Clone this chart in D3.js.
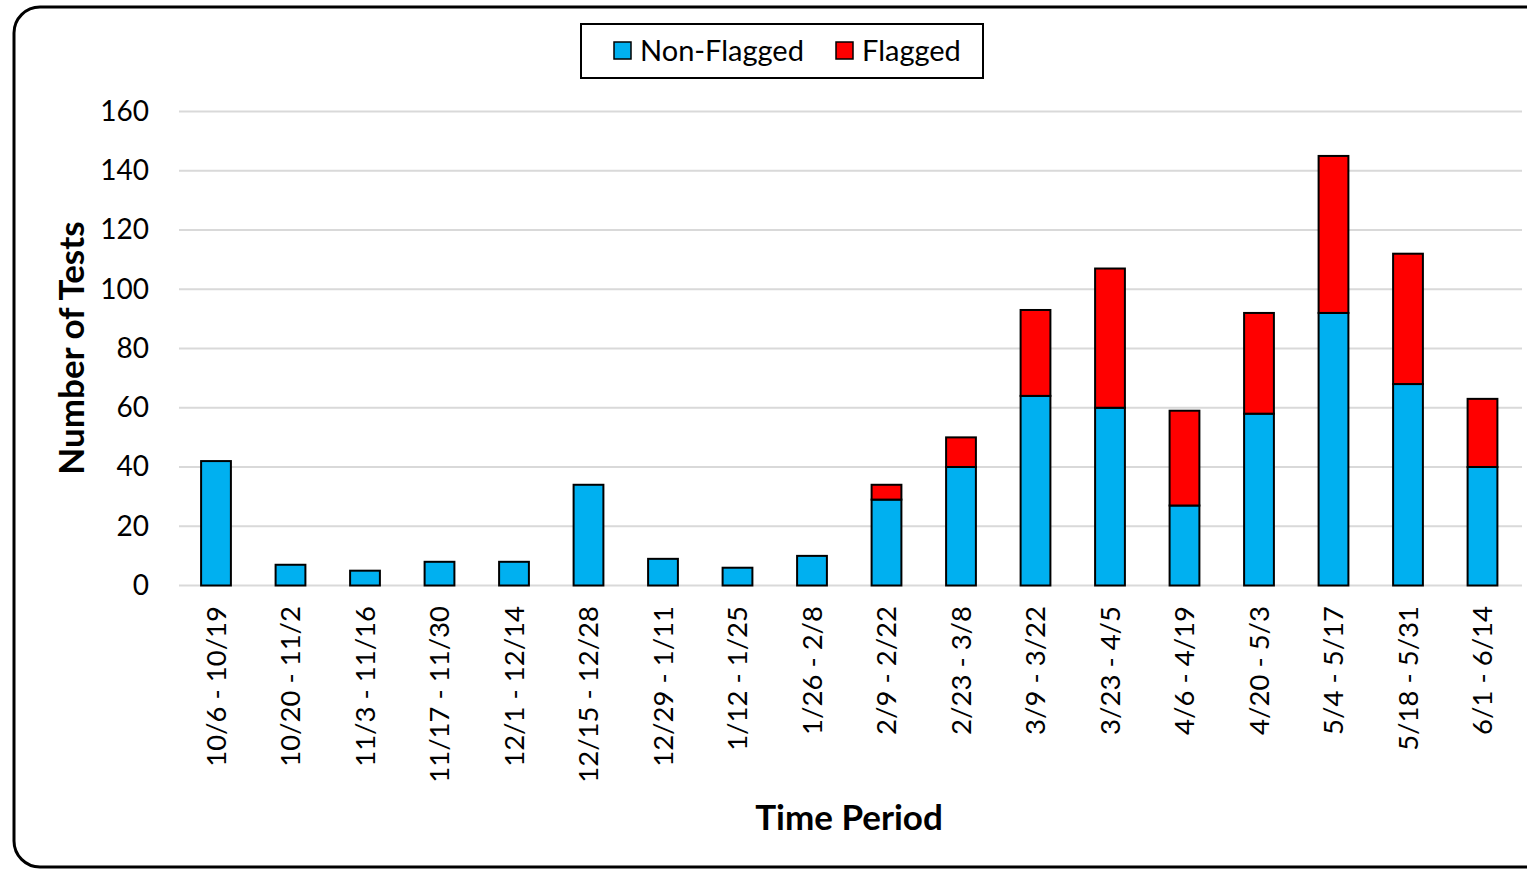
<!DOCTYPE html>
<html>
<head>
<meta charset="utf-8">
<script src="https://cdn.jsdelivr.net/npm/d3@7"></script>
<style>
  html, body { margin: 0; padding: 0; background: #fff; overflow: hidden; }
  svg { display: block; font-family: Lato, "Open Sans", sans-serif; }
</style>
</head>
<body>
<svg id="chart" width="1527" height="869"></svg>
<script>
// Data
const periods = [
    '10/6 - 10/19', '10/20 - 11/2', '11/3 - 11/16', '11/17 - 11/30', '12/1 - 12/14',
    '12/15 - 12/28', '12/29 - 1/11', '1/12 - 1/25', '1/26 - 2/8', '2/9 - 2/22',
    '2/23 - 3/8', '3/9 - 3/22', '3/23 - 4/5', '4/6 - 4/19', '4/20 - 5/3',
    '5/4 - 5/17', '5/18 - 5/31', '6/1 - 6/14'
];
const nonFlagged = [42, 7, 5, 8, 8, 34, 9, 6, 10, 29, 40, 64, 60, 27, 58, 92, 68, 40];
const flagged    = [0, 0, 0, 0, 0, 0, 0, 0, 0, 5, 10, 29, 47, 32, 34, 53, 44, 23];
const yTicks = [0, 20, 40, 60, 80, 100, 120, 140, 160];
const seriesNames = ['Non-Flagged', 'Flagged'];
const seriesColors = ['#00B0F0', '#FF0000'];

const svg = d3.select('#chart');

// Outer rounded frame (runs off the right edge like the original)
svg.append('rect')
    .attr('x', 14).attr('y', 7)
    .attr('width', 1600).attr('height', 860)
    .attr('rx', 26).attr('ry', 26)
    .attr('fill', '#fff')
    .attr('stroke', '#000')
    .attr('stroke-width', 3);

// Scales
const x = d3.scaleBand()
    .domain(periods)
    .range([178.75, 1519.75])
    .paddingInner(0.6)
    .paddingOuter(0.3);

const y = d3.scaleLinear()
    .domain([0, 160])
    .range([585.5, 111.5]);

// Gridlines
svg.append('g')
    .selectAll('line')
    .data(yTicks)
    .join('line')
    .attr('x1', 179).attr('x2', 1522)
    .attr('y1', d => y(d)).attr('y2', d => y(d))
    .attr('stroke', '#d9d9d9')
    .attr('stroke-width', 2);

// Stacked data
const rows = periods.map((p, i) => ({ period: p, 'Non-Flagged': nonFlagged[i], 'Flagged': flagged[i] }));
const stacked = d3.stack().keys(seriesNames)(rows);

svg.append('g')
    .selectAll('g')
    .data(stacked)
    .join('g')
    .attr('fill', (d, i) => seriesColors[i])
    .selectAll('rect')
    .data(d => d.filter(s => s[1] - s[0] > 0))
    .join('rect')
    .attr('x', d => x(d.data.period))
    .attr('width', x.bandwidth())
    .attr('y', d => y(d[1]))
    .attr('height', d => y(d[0]) - y(d[1]))
    .attr('stroke', '#000')
    .attr('stroke-width', 2);

// Y axis (labels only)
const gy = svg.append('g')
    .attr('transform', 'translate(149,0)')
    .call(d3.axisLeft(y).tickValues(yTicks).tickSize(0).tickPadding(0));
gy.select('.domain').remove();
gy.selectAll('.tick text')
    .attr('fill', '#000')
    .style('font-family', 'Lato, sans-serif')
    .style('font-size', '28px');

// X axis (rotated labels only)
const gx = svg.append('g')
    .attr('transform', 'translate(0,585)')
    .call(d3.axisBottom(x).tickSize(0).tickPadding(0));
gx.select('.domain').remove();
gx.selectAll('.tick text')
    .attr('fill', '#000')
    .style('font-family', 'Lato, sans-serif')
    .style('font-size', '27.5px')
    .style('text-anchor', 'end')
    .attr('transform', 'rotate(-90)')
    .attr('x', -21)
    .attr('y', 0)
    .attr('dy', '0.35em');

// Axis titles
svg.append('text')
    .attr('transform', 'translate(84,348) rotate(-90)')
    .attr('text-anchor', 'middle')
    .style('font-size', '35px')
    .style('font-weight', 'bold')
    .text('Number of Tests');

svg.append('text')
    .attr('x', 849).attr('y', 830)
    .attr('text-anchor', 'middle')
    .style('font-size', '35px')
    .style('font-weight', 'bold')
    .text('Time Period');

// Legend
const legend = svg.append('g');
legend.append('rect')
    .attr('x', 581).attr('y', 24)
    .attr('width', 402).attr('height', 54)
    .attr('fill', '#fff')
    .attr('stroke', '#000')
    .attr('stroke-width', 2);

const legendX = [614, 836];
const items = legend.selectAll('g.item')
    .data(seriesNames)
    .join('g')
    .attr('class', 'item')
    .attr('transform', (d, i) => `translate(${legendX[i]},42)`);
items.append('rect')
    .attr('width', 17).attr('height', 17)
    .attr('fill', (d, i) => seriesColors[i])
    .attr('stroke', '#000')
    .attr('stroke-width', 1.5);
items.append('text')
    .attr('x', 26).attr('y', 18.5)
    .style('font-size', '29px')
    .text(d => d);
</script>
</body>
</html>
